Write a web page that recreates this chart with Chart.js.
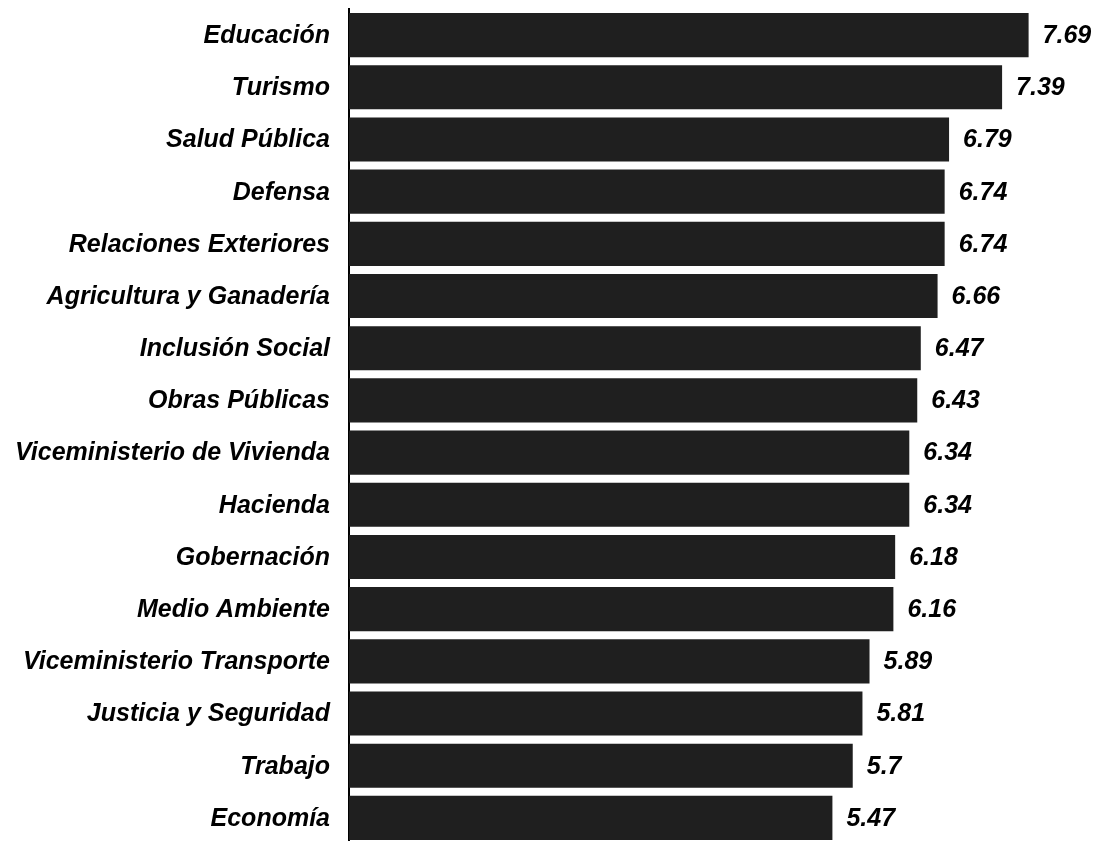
<!DOCTYPE html>
<html>
<head>
<meta charset="utf-8">
<script src="https://cdn.jsdelivr.net/npm/chart.js@4"></script>
<style>
  html, body { margin: 0; padding: 0; background: #fff; overflow: hidden; }
  #wrap { width: 1097px; height: 846px; }
</style>
</head>
<body>
<div id="wrap"><canvas id="chart"></canvas></div>
<script>
const categories = [
  "Educación", "Turismo", "Salud Pública", "Defensa", "Relaciones Exteriores",
  "Agricultura y Ganadería", "Inclusión Social", "Obras Públicas",
  "Viceministerio de Vivienda", "Hacienda", "Gobernación", "Medio Ambiente",
  "Viceministerio Transporte", "Justicia y Seguridad", "Trabajo", "Economía"
];
const scores = [7.69, 7.39, 6.79, 6.74, 6.74, 6.66, 6.47, 6.43, 6.34, 6.34, 6.18, 6.16, 5.89, 5.81, 5.7, 5.47];
const valueLabels = ["7.69", "7.39", "6.79", "6.74", "6.74", "6.66", "6.47", "6.43", "6.34", "6.34", "6.18", "6.16", "5.89", "5.81", "5.7", "5.47"];

const labelFont = "italic bold 25px 'Liberation Sans', Arial, sans-serif";

// category names left of the axis, values right of each bar
const labelPlugin = {
  id: "labels",
  afterDatasetsDraw(chart) {
    const ctx = chart.ctx;
    const yScale = chart.scales.y;
    const meta = chart.getDatasetMeta(0);
    ctx.save();
    ctx.font = labelFont;
    ctx.fillStyle = "#000";
    ctx.textBaseline = "middle";
    ctx.textAlign = "right";
    categories.forEach((name, i) => {
      ctx.fillText(name, yScale.right - 19, yScale.getPixelForTick(i) + 1);
    });
    ctx.textAlign = "left";
    meta.data.forEach((bar, i) => {
      ctx.fillText(valueLabels[i], bar.x + 14, bar.y + 1);
    });
    ctx.restore();
  }
};

new Chart(document.getElementById("chart"), {
  type: "bar",
  data: {
    labels: categories,
    datasets: [{
      data: scores,
      backgroundColor: "#1f1f1f",
      borderWidth: 0,
      barPercentage: 0.845,
      categoryPercentage: 1
    }]
  },
  options: {
    indexAxis: "y",
    responsive: true,
    maintainAspectRatio: false,
    animation: false,
    layout: { padding: { top: 9, right: 41, bottom: 2, left: 0 } },
    plugins: { legend: { display: false }, tooltip: { enabled: false } },
    scales: {
      x: { display: false, min: 0, max: 8 },
      y: {
        afterFit(scale) { scale.width = 349; },
        grid: { display: false, drawTicks: false },
        border: { display: true, color: "#000", width: 2 },
        ticks: { display: false }
      }
    }
  },
  plugins: [labelPlugin]
});
</script>
</body>
</html>
